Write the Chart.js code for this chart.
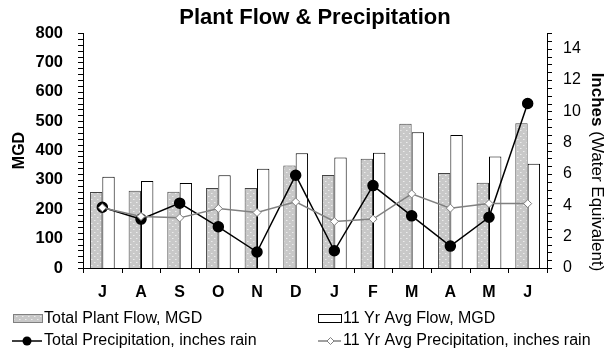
<!DOCTYPE html>
<html>
<head>
<meta charset="utf-8">
<script src="https://cdn.jsdelivr.net/npm/chart.js@4/dist/chart.umd.min.js"></script>
<style>
  html, body { margin: 0; padding: 0; background: #fff; }
  #wrap { position: relative; width: 608px; height: 354px; }
</style>
</head>
<body>
<div id="wrap"><canvas id="chart" width="608" height="354"></canvas></div>
<script>
var months = ['J', 'A', 'S', 'O', 'N', 'D', 'J', 'F', 'M', 'A', 'M', 'J'];
var plantFlow = [259, 263, 260, 272, 272, 349, 317, 372, 491, 323, 290, 493];
var avgFlow = [311, 296, 289, 316, 338, 391, 376, 392, 462, 453, 380, 355];
var precip = [3.88, 3.12, 4.14, 2.63, 1.02, 5.92, 1.10, 5.26, 3.33, 1.40, 3.24, 10.5];
var avgPrecip = [3.85, 3.29, 3.2, 3.8, 3.54, 4.22, 2.97, 3.12, 4.73, 3.82, 4.11, 4.11];
var flowTicks = [0, 100, 200, 300, 400, 500, 600, 700, 800];
var inchTicks = [0, 2, 4, 6, 8, 10, 12, 14];

var FONT = '"Liberation Sans", Arial, sans-serif';

function makePattern() {
    var c = document.createElement('canvas');
    c.width = 6;
    c.height = 6;
    var g = c.getContext('2d');
    g.fillStyle = '#c8c8c8';
    g.fillRect(0, 0, 6, 6);
    g.fillStyle = '#ececec';
    g.fillRect(1, 1, 1, 1);
    g.fillRect(4, 4, 1, 1);
    g.fillStyle = '#dadada';
    g.fillRect(2, 1, 1, 1);
    g.fillRect(5, 4, 1, 1);
    return g.createPattern(c, 'repeat');
}

var grayFill = makePattern();

// minor / major tick marks and the right-hand title
var axisDecor = {
    id: 'axisDecor',
    afterDraw: function(chart) {
        var ctx = chart.ctx;
        var y = chart.scales.y, y2 = chart.scales.y2;
        var ca = chart.chartArea;
        ctx.save();
        ctx.strokeStyle = '#000';
        ctx.lineWidth = 1;
        ctx.beginPath();
        var v, p;
        for (v = 0; v <= 800; v += 20) {
            p = Math.round(y.getPixelForValue(v)) + 0.5;
            ctx.moveTo(ca.left - 5, p);
            ctx.lineTo(ca.left, p);
        }
        for (v = 0; v <= 15; v += 0.5) {
            p = Math.round(y2.getPixelForValue(v)) + 0.5;
            ctx.moveTo(ca.right, p);
            ctx.lineTo(ca.right + 5, p);
        }
        var step = (ca.right - ca.left) / months.length;
        for (var i = 0; i <= months.length; i++) {
            p = Math.round(ca.left + i * step) + 0.5;
            ctx.moveTo(p, ca.bottom);
            ctx.lineTo(p, ca.bottom + 5);
        }
        ctx.stroke();

        // right axis title: bold "Inches", normal rest
        ctx.translate(597, 172);
        ctx.rotate(Math.PI / 2);
        ctx.fillStyle = '#000';
        ctx.textBaseline = 'middle';
        var boldPart = 'Inches';
        var restPart = ' (Water Equivalent)';
        ctx.font = 'bold 17px ' + FONT;
        var w1 = ctx.measureText(boldPart).width;
        ctx.font = '17px ' + FONT;
        var w2 = ctx.measureText(restPart).width;
        var start = -(w1 + w2) / 2;
        ctx.font = 'bold 17px ' + FONT;
        ctx.textAlign = 'left';
        ctx.fillText(boldPart, start, 0);
        ctx.font = '17px ' + FONT;
        ctx.fillText(restPart, start + w1, 0);
        ctx.restore();
    }
};

// legend in two fixed columns under the chart
var legendBlock = {
    id: 'legendBlock',
    afterDraw: function(chart) {
        var ctx = chart.ctx;
        ctx.save();
        ctx.font = '16px ' + FONT;
        ctx.textBaseline = 'middle';
        ctx.textAlign = 'left';

        ctx.fillStyle = grayFill;
        ctx.fillRect(13, 314, 29, 8);
        ctx.strokeStyle = '#808080';
        ctx.lineWidth = 1;
        ctx.strokeRect(13.5, 314.5, 29, 8);
        ctx.fillStyle = '#fff';
        ctx.fillRect(318, 314, 23, 8);
        ctx.strokeStyle = '#000';
        ctx.strokeRect(318.5, 314.5, 23, 8);

        ctx.strokeStyle = '#000';
        ctx.lineWidth = 1.5;
        ctx.beginPath();
        ctx.moveTo(12, 341);
        ctx.lineTo(42, 341);
        ctx.stroke();
        ctx.fillStyle = '#000';
        ctx.beginPath();
        ctx.arc(27, 341, 4.5, 0, Math.PI * 2);
        ctx.fill();

        ctx.strokeStyle = '#808080';
        ctx.beginPath();
        ctx.moveTo(318, 341);
        ctx.lineTo(341, 341);
        ctx.stroke();
        ctx.fillStyle = '#fff';
        ctx.lineWidth = 1;
        ctx.beginPath();
        ctx.moveTo(330.5, 337.5);
        ctx.lineTo(334, 341);
        ctx.lineTo(330.5, 344.5);
        ctx.lineTo(327, 341);
        ctx.closePath();
        ctx.fill();
        ctx.stroke();

        ctx.fillStyle = '#000';
        ctx.fillText('Total Plant Flow, MGD', 44, 319);
        ctx.fillText('11 Yr Avg Flow, MGD', 343, 319);
        ctx.fillText('Total Precipitation, inches rain', 44, 341);
        ctx.fillText('11 Yr Avg Precipitation, inches rain', 343, 341);
        ctx.restore();
    }
};

document.addEventListener('DOMContentLoaded', function() {
    var el = document.getElementById('chart');
    new Chart(el.getContext('2d'), {
        type: 'bar',
        data: {
            labels: months,
            datasets: [
                {
                    type: 'line',
                    label: '11 Yr Avg Precipitation, inches rain',
                    data: avgPrecip,
                    yAxisID: 'y2',
                    order: 0,
                    borderColor: '#808080',
                    borderWidth: 1.5,
                    pointStyle: 'rectRot',
                    pointRadius: 4,
                    pointBackgroundColor: '#fff',
                    pointBorderColor: '#808080',
                    pointBorderWidth: 1,
                    tension: 0
                },
                {
                    type: 'line',
                    label: 'Total Precipitation, inches rain',
                    data: precip,
                    yAxisID: 'y2',
                    order: 1,
                    borderColor: '#000',
                    borderWidth: 1.5,
                    pointStyle: 'circle',
                    pointRadius: 5,
                    pointBackgroundColor: '#000',
                    pointBorderColor: '#000',
                    tension: 0
                },
                {
                    label: 'Total Plant Flow, MGD',
                    data: plantFlow,
                    yAxisID: 'y',
                    order: 2,
                    backgroundColor: grayFill,
                    borderColor: '#444',
                    borderWidth: 1,
                    categoryPercentage: 0.64,
                    barPercentage: 1
                },
                {
                    label: '11 Yr Avg Flow, MGD',
                    data: avgFlow,
                    yAxisID: 'y',
                    order: 3,
                    backgroundColor: '#fff',
                    borderColor: '#000',
                    borderWidth: 1,
                    categoryPercentage: 0.64,
                    barPercentage: 1
                }
            ]
        },
        options: {
            responsive: false,
            animation: false,
            layout: { padding: { top: 0, bottom: 48, left: 0, right: 0 } },
            plugins: {
                legend: { display: false },
                tooltip: { enabled: false },
                title: {
                    display: true,
                    text: 'Plant Flow & Precipitation',
                    fullSize: false,
                    color: '#000',
                    font: { family: FONT, size: 22, weight: 'bold' },
                    padding: { top: 5, bottom: 1.6 }
                }
            },
            scales: {
                x: {
                    grid: { display: false, drawTicks: false },
                    border: { display: true, color: '#000', width: 1 },
                    ticks: { color: '#000', padding: 15, maxRotation: 0, autoSkip: false,
                             font: { family: FONT, size: 16, weight: 'bold' } },
                    afterFit: function(s) { s.height = 38; }
                },
                y: {
                    position: 'left',
                    min: 0,
                    max: 800,
                    grid: { display: false, drawTicks: false },
                    border: { display: true, color: '#000', width: 1 },
                    afterBuildTicks: function(s) {
                        s.ticks = flowTicks.map(function(v) { return { value: v }; });
                    },
                    ticks: { color: '#000', padding: 20,
                             font: { family: FONT, size: 16.5, weight: 'bold' } },
                    title: { display: true, text: 'MGD', color: '#000', padding: { top: 10, bottom: 0 },
                             font: { family: FONT, size: 16, weight: 'bold' } },
                    afterFit: function(s) { s.width = 83; }
                },
                y2: {
                    position: 'right',
                    min: 0,
                    max: 15,
                    grid: { display: false, drawTicks: false },
                    border: { display: true, color: '#000', width: 1 },
                    afterBuildTicks: function(s) {
                        s.ticks = inchTicks.map(function(v) { return { value: v }; });
                    },
                    ticks: { color: '#000', padding: 16,
                             font: { family: FONT, size: 16 } },
                    afterFit: function(s) { s.width = 61; }
                }
            }
        },
        plugins: [axisDecor, legendBlock]
    });
});
</script>
</body>
</html>
